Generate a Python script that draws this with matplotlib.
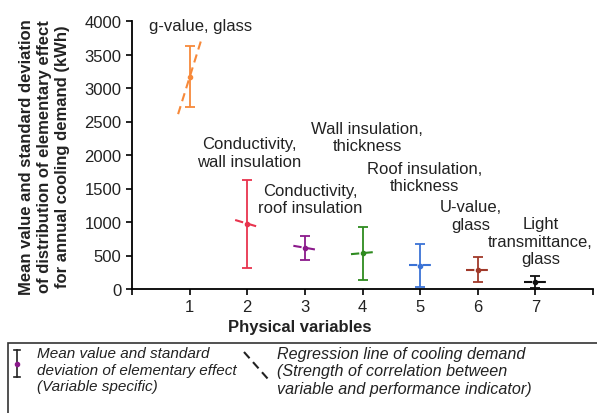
import matplotlib.pyplot as plt
from matplotlib.lines import Line2D
from matplotlib.patches import Rectangle

plt.rcParams['font.family'] = ['Liberation Sans', 'DejaVu Sans']

# data
variables = [1, 2, 3, 4, 5, 6, 7]
means = [3170, 970, 615, 530, 350, 288, 107]
sds = [460, 660, 178, 395, 325, 185, 92]
colors = ['#f7893a', '#e8344e', '#8b1a8b', '#2e8b1f', '#3b73d6', '#a0392a', '#111111']

# regression line end points (x, y)
reg_x0 = [0.80, 1.79, 2.80, 3.80, 4.80, 5.80, 6.80]
reg_x1 = [1.21, 2.22, 3.21, 4.21, 5.21, 6.21, 7.21]
reg_y0 = [2610, 1030, 645, 520, 358, 285, 105]
reg_y1 = [3740, 920, 585, 552, 358, 285, 105]

labels = ['g-value, glass', 'Conductivity,\nwall insulation', 'Conductivity,\nroof insulation',
          'Wall insulation,\nthickness', 'Roof insulation,\nthickness', 'U-value,\nglass',
          'Light\ntransmittance,\nglass']
label_pos = [(1.19, 3940), (2.04, 2040), (3.1, 1340), (4.08, 2270), (5.07, 1670),
             (5.88, 1100), (7.09, 716)]

fs = 12
fig = plt.figure(figsize=(5.97, 4.14), dpi=100)
ax = fig.add_axes([132 / 597, 1 - 290 / 414, 461 / 597, 268 / 414])

for i, x in enumerate(variables):
    ax.plot([reg_x0[i], reg_x1[i]], [reg_y0[i], reg_y1[i]], color=colors[i],
            linestyle=(0, (4, 2.5)), linewidth=1.5, zorder=2)
    ax.errorbar(x, means[i], yerr=sds[i], color=colors[i], fmt='o', markersize=3,
                capsize=3.5, elinewidth=1.3, capthick=1.3, zorder=3)

# each label line is its own text so neighbouring blocks don't collide
for txt, (lx, ly) in zip(labels, label_pos):
    lines = txt.split('\n')
    n = len(lines)
    for k, line in enumerate(lines):
        off = ((n - 1) / 2 - k) * fs * 1.05
        ax.annotate(line, (lx, ly), xytext=(0, off), textcoords='offset points',
                    ha='center', va='center', fontsize=fs, color='#222222')

ax.set_xlim(0, 8)
ax.set_ylim(0, 4000)
ax.set_yticks(range(0, 4001, 500))
ax.set_xticks(range(0, 9))
ax.set_xticklabels([''] + [str(v) for v in variables] + [''])
ax.tick_params(axis='both', labelsize=fs, direction='out', length=4, width=1.2,
               colors='black', labelcolor='#222222')
for s in ['top', 'right']:
    ax.spines[s].set_visible(False)
for s in ['left', 'bottom']:
    ax.spines[s].set_linewidth(1.3)

fig.text(45 / 597, 1 - 157 / 414,
         'Mean value and standard deviation\nof distribution of elementary effect\n'
         'for annual cooling demand (kWh)', rotation=90, ha='center', va='center',
         fontsize=fs, fontweight='bold', linespacing=1.25, color='#222222')
fig.text(300 / 597, 1 - 328 / 414, 'Physical variables', ha='center', va='center',
         fontsize=fs, fontweight='bold', color='#222222')

# legend box
fig.patches.append(Rectangle((8 / 597, -0.05), 0.99, 1 - 344 / 414 + 0.05,
                             transform=fig.transFigure, fill=False,
                             edgecolor='#333333', linewidth=1.2))
ix, iy0, iy1 = 17 / 597, 1 - 351 / 414, 1 - 378 / 414
fig.lines.append(Line2D([ix, ix], [iy0, iy1], transform=fig.transFigure,
                        color='#222222', linewidth=1.2))
for yy in (iy0, iy1):
    fig.lines.append(Line2D([ix - 3 / 597, ix + 3 / 597], [yy, yy],
                            transform=fig.transFigure, color='#222222', linewidth=1.2))
fig.lines.append(Line2D([ix], [(iy0 + iy1) / 2], transform=fig.transFigure,
                        marker='o', markersize=3, color='#8b1a8b'))
fig.lines.append(Line2D([244 / 597, 268 / 597], [1 - 353 / 414, 1 - 380 / 414],
                        transform=fig.transFigure, color='#222222',
                        linestyle=(0, (4, 2.5)), linewidth=1.5))
fig.text(37 / 597, 1 - 347 / 414,
         'Mean value and standard\ndeviation of elementary effect\n(Variable specific)',
         ha='left', va='top', fontsize=11, style='italic', color='#222222', linespacing=1.25)
fig.text(277 / 597, 1 - 347 / 414,
         'Regression line of cooling demand\n(Strength of correlation between\n'
         'variable and performance indicator)',
         ha='left', va='top', fontsize=11.6, style='italic', color='#222222', linespacing=1.2)

fig.savefig('out.png', dpi=100)
